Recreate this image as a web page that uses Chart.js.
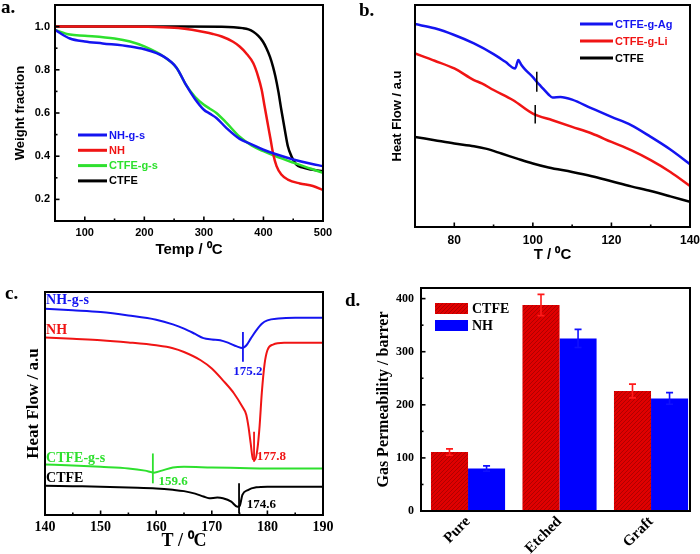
<!DOCTYPE html>
<html><head><meta charset="utf-8">
<script src="https://cdn.jsdelivr.net/npm/chart.js@4.4.1/dist/chart.umd.min.js"></script>
<style>
html,body{margin:0;padding:0;background:#fff;}
#wrap{position:relative;width:700px;height:554px;overflow:hidden;background:#fff;}
canvas{position:absolute;}
.plab{position:absolute;font-family:"Liberation Serif","Times New Roman",serif;font-weight:bold;font-size:19px;line-height:1;color:#000;}
</style></head><body>
<div id="wrap">
<canvas id="ca" width="350" height="280" style="left:0;top:0;width:350px;height:280px"></canvas>
<canvas id="cb" width="350" height="280" style="left:350px;top:0;width:350px;height:280px"></canvas>
<canvas id="cc" width="350" height="274" style="left:0;top:280px;width:350px;height:274px"></canvas>
<canvas id="cd" width="350" height="274" style="left:350px;top:280px;width:350px;height:274px"></canvas>
<div class="plab" style="left:1px;top:-3px">a.</div>
<div class="plab" style="left:359px;top:0px">b.</div>
<div class="plab" style="left:5px;top:283px">c.</div>
<div class="plab" style="left:345px;top:290px">d.</div>
</div>
<script>
// ---------------- Panel a: TGA ----------------
const aXTicks = [100, 200, 300, 400, 500];
const aXMinor = [150, 250, 350, 450];
const aYTicks = [0.2, 0.4, 0.6, 0.8, 1.0];
const aYMinor = [0.3, 0.5, 0.7, 0.9];
const aNhgsT = [50,75,100,130,176,200,232,254,270,285,300,310,321,338,360,380,400,420,450,480,500];
const aNhgsW = [0.985,0.945,0.931,0.922,0.908,0.895,0.862,0.81,0.73,0.665,0.615,0.597,0.577,0.53,0.48,0.455,0.43,0.41,0.385,0.365,0.354];
const aNhT = [50,150,220,257,280,300,315,330,349,360,371,383,391,397,402,408,412,416,422,430,441,461,483,500];
const aNhW = [1.0,1.0,0.998,0.993,0.985,0.975,0.966,0.954,0.93,0.908,0.877,0.83,0.77,0.708,0.63,0.538,0.477,0.415,0.354,0.315,0.292,0.274,0.262,0.243];
const aCtfegsT = [50,75,100,150,176,200,232,254,270,285,300,310,321,338,360,380,400,420,450,480,500];
const aCtfegsW = [0.985,0.963,0.958,0.945,0.931,0.908,0.862,0.81,0.73,0.675,0.638,0.62,0.6,0.554,0.49,0.45,0.423,0.40,0.37,0.342,0.323];
const aCtfeT = [50,150,250,330,350,365,375,383,391,399,405,411,416,420,425,430,436,441,447,455,465,480,500];
const aCtfeW = [1.0,1.0,1.0,0.999,0.997,0.993,0.987,0.976,0.958,0.931,0.9,0.86,0.815,0.77,0.7,0.615,0.52,0.446,0.4,0.362,0.348,0.338,0.331];

// ---------------- Panel b: DSC (a.u.) ----------------
const bXTicks = [80, 100, 120, 140];
const bXMinor = [90, 110, 130];
const bAgT = [70,75,80,85,90,93,95.5,96.3,97,98,100,101,102,104,105,107,110,115,120,125,130,135,140];
const bAgY = [91.4,89.5,86.5,82.7,77.9,74.4,71.4,75.2,73.2,71.0,67.5,65.4,63.5,59.7,58.3,58.6,57.4,53.4,49.6,45.9,40.6,34.9,28.3];
const bLiT = [70,75,80,85,87,90,95,100,105,110,115,120,125,130,135,140];
const bLiY = [78.2,74.9,71.4,66.2,64.7,61.7,57.1,51.1,48.1,45.1,42.1,38.3,34.6,30.1,24.8,18.5];
const bCtfeT = [70,75,80,85,88,92,96,100,104,110,115,120,125,130,135,140];
const bCtfeY = [40.6,39.1,37.6,36.4,35.3,33.1,30.8,28.6,26.8,24.8,22.9,20.6,18.3,16.2,13.8,11.3];

// ---------------- Panel c: DSC melting (a.u.) ----------------
const cXTicks = [140, 150, 160, 170, 180, 190];
const cXMinor = [145, 155, 165, 175, 185];
const cNhgsT = [140,145,150,155,160,163,165,167,168.5,170,171.5,173,174.5,175.5,176.2,177,178,179,180,182,185,190];
const cNhgsY = [92.5,91.8,91.0,89.5,87.6,85.5,83.6,81.2,79.3,78.7,78.4,77.2,75.6,74.9,76.0,79.1,82.8,85.8,87.3,88.1,88.4,88.4];
const cNhT = [140,145,150,155,160,163,165,168,170,172,174,175.5,176.2,176.6,177,177.4,177.8,178.2,178.6,179,179.5,180,181,183,186,190];
const cNhY = [79.6,79.0,78.4,77.4,76.1,74.8,73.1,69.4,65.7,60.4,54.5,48.5,45.0,39.5,32.0,25.0,24.8,29.5,40.0,55.0,67.9,73.9,76.4,77.2,77.2,77.2];
const cCtfegsT = [140,145,150,155,158,159.6,161,163,165,170,175,180,185,190];
const cCtfegsY = [22.7,22.2,21.6,20.9,19.9,19.0,19.9,21.3,21.6,21.3,21.1,20.9,20.9,20.9];
const cCtfeT = [140,145,150,155,160,163,165,167,168.5,169.5,171,172,173.5,174.6,175,175.5,176.5,178,180,185,190];
const cCtfeY = [13.1,12.9,12.7,12.3,11.9,11.3,10.7,9.6,8.3,7.5,7.8,7.5,6.0,3.7,4.0,9.0,11.2,12.4,12.7,12.7,12.7];
const cPeakLabels = ['175.2', '177.8', '159.6', '174.6'];

// ---------------- Panel d: gas permeability ----------------
const dCats = ['Pure', 'Etched', 'Graft'];
const dCtfe = [111, 388, 226];
const dCtfeErr = [6, 20, 13];
const dNh = [80, 325, 212];
const dNhErr = [5, 17, 11];
const dYTicks = [0, 100, 200, 300, 400];
const dYMinor = [50, 150, 250, 350];

// ---------------- helpers ----------------
const SANS = '"Liberation Sans", Arial, sans-serif';
const SERIF = '"Liberation Serif", "Times New Roman", serif';
const BLUE = '#1414f0', RED = '#f01414', GREEN = '#2ee02e', BLACK = '#000000';
const f = (family, size) => ({family, size, weight: 'bold'});

function lineDs(label, xs, ys, color, w) {
  return {label, data: xs.map((x, i) => ({x, y: ys[i]})), borderColor: color, backgroundColor: color,
    borderWidth: w, pointRadius: 0, fill: false, cubicInterpolationMode: 'monotone'};
}
function linScale(o) {
  return {
    type: 'linear', min: o.min, max: o.max, offset: false,
    afterBuildTicks: s => { s.ticks = o.ticks.map(v => ({value: v})); },
    afterFit: s => {
      if (o.w !== undefined) s.width = o.w;
      if (o.h !== undefined) s.height = o.h;
      s.paddingTop = 0; s.paddingBottom = 0; s.paddingLeft = 0; s.paddingRight = 0;
    },
    grid: {display: false, drawTicks: false, offset: false},
    border: {display: false},
    ticks: {display: o.showTicks !== false, autoSkip: false, maxRotation: o.rot || 0, minRotation: o.rot || 0,
      padding: o.pad || 0, font: o.tickFont || f(SANS, 11), color: '#000',
      callback: o.fmt || (v => String(v))},
    title: {display: !!o.title, text: o.title || '', font: o.titleFont || f(SANS, 12), color: '#000',
      padding: o.titlePad || 0}
  };
}
function frame(cfg) {
  return {id: 'frame', afterDatasetsDraw(chart) {
    const {ctx, chartArea: a} = chart; const xs = chart.scales.x, ys = chart.scales.y;
    ctx.save(); ctx.strokeStyle = '#000'; ctx.lineWidth = 1.6;
    const seg = (x1, y1, x2, y2) => { ctx.beginPath(); ctx.moveTo(x1, y1); ctx.lineTo(x2, y2); ctx.stroke(); };
    (cfg.xMajor || []).forEach(v => { const p = xs.getPixelForValue(v); seg(p, a.bottom, p, a.bottom - 4.5); });
    (cfg.xMinor || []).forEach(v => { const p = xs.getPixelForValue(v); seg(p, a.bottom, p, a.bottom - 2.5); });
    (cfg.yMajor || []).forEach(v => { const p = ys.getPixelForValue(v); seg(a.left, p, a.left + 4.5, p); });
    (cfg.yMinor || []).forEach(v => { const p = ys.getPixelForValue(v); seg(a.left, p, a.left + 2.5, p); });
    ctx.lineWidth = 2;
    ctx.strokeRect(a.left, a.top, a.right - a.left, a.bottom - a.top);
    ctx.restore();
  }};
}
function lineLegend(cfg) {
  return {id: 'lineLegend', afterDraw(chart) {
    const {ctx, chartArea: a} = chart;
    ctx.save(); ctx.font = cfg.font; ctx.textBaseline = 'middle'; ctx.textAlign = 'left';
    chart.data.datasets.forEach((ds, i) => {
      const x = a.left + cfg.left, y = a.top + cfg.top + i * cfg.gap;
      ctx.strokeStyle = ds.borderColor; ctx.lineWidth = cfg.lw;
      ctx.beginPath(); ctx.moveTo(x, y); ctx.lineTo(x + cfg.len, y); ctx.stroke();
      ctx.fillStyle = ds.borderColor; ctx.fillText(ds.label, x + cfg.len + cfg.sp, y + 0.5);
    });
    ctx.restore();
  }};
}
function marks(cfg) {
  return {id: 'marks', afterDatasetsDraw(chart) {
    const {ctx} = chart; const xs = chart.scales.x, ys = chart.scales.y;
    ctx.save();
    (cfg.lines || []).forEach(m => {
      ctx.strokeStyle = m.color; ctx.lineWidth = cfg.lw;
      const px = xs.getPixelForValue(m.x);
      ctx.beginPath(); ctx.moveTo(px, ys.getPixelForValue(m.y1)); ctx.lineTo(px, ys.getPixelForValue(m.y2)); ctx.stroke();
    });
    ctx.textBaseline = 'middle';
    (cfg.texts || []).forEach(t => {
      ctx.font = t.font || cfg.font; ctx.fillStyle = t.color; ctx.textAlign = t.align || 'left';
      ctx.fillText(t.text, xs.getPixelForValue(t.x), ys.getPixelForValue(t.y));
    });
    ctx.restore();
  }};
}
function errBars() {
  return {id: 'errBars', afterDatasetsDraw(chart) {
    const {ctx} = chart; const ys = chart.scales.y;
    ctx.save(); ctx.lineWidth = 1.6;
    chart.data.datasets.forEach((ds, i) => {
      const meta = chart.getDatasetMeta(i);
      ctx.strokeStyle = ds.errColor;
      meta.data.forEach((bar, j) => {
        const v = ds.data[j].y, e = ds.errors[j];
        const t = ys.getPixelForValue(v + e), b = ys.getPixelForValue(v - e);
        ctx.beginPath();
        ctx.moveTo(bar.x, t); ctx.lineTo(bar.x, b);
        ctx.moveTo(bar.x - 3.5, t); ctx.lineTo(bar.x + 3.5, t);
        ctx.moveTo(bar.x - 3.5, b); ctx.lineTo(bar.x + 3.5, b);
        ctx.stroke();
      });
    });
    ctx.restore();
  }};
}
function boxLegend(cfg) {
  return {id: 'boxLegend', afterDraw(chart) {
    const {ctx, chartArea: a} = chart;
    ctx.save(); ctx.font = cfg.font; ctx.textBaseline = 'middle'; ctx.textAlign = 'left'; ctx.fillStyle = '#000';
    chart.data.datasets.forEach((ds, i) => {
      const x = a.left + cfg.left, y = a.top + cfg.top + i * cfg.gap;
      ctx.fillStyle = ds.backgroundColor; ctx.fillRect(x, y, cfg.w, cfg.h);
      ctx.fillStyle = '#000'; ctx.fillText(ds.label, x + cfg.w + 4, y + cfg.h / 2 + 0.5);
    });
    ctx.restore();
  }};
}
const common = (pad) => ({responsive: false, animation: false, events: [], layout: {padding: pad},
  plugins: {legend: {display: false}, tooltip: {enabled: false}}});

// ---------------- Chart a ----------------
new Chart(document.getElementById('ca'), {
  type: 'line',
  data: {datasets: [
    lineDs('NH-g-s', aNhgsT, aNhgsW, BLUE, 2.5),
    lineDs('NH', aNhT, aNhW, RED, 2.5),
    lineDs('CTFE-g-s', aCtfegsT, aCtfegsW, GREEN, 2.5),
    lineDs('CTFE', aCtfeT, aCtfeW, BLACK, 2.5)
  ]},
  options: Object.assign(common({left: 0, top: 5, right: 27, bottom: 0}), {
    scales: {
      x: linScale({min: 50, max: 500, ticks: aXTicks, h: 59, pad: 5, tickFont: f(SANS, 11),
        title: 'Temp / \u2070C', titleFont: f(SANS, 15), titlePad: {top: 0, bottom: 21}}),
      y: linScale({min: 0.1, max: 1.1, ticks: aYTicks, w: 55, pad: 5, tickFont: f(SANS, 11),
        fmt: v => v.toFixed(1), title: 'Weight fraction', titleFont: f(SANS, 13), titlePad: {top: 13, bottom: 0}})
    }
  }),
  plugins: [frame({xMajor: aXTicks, xMinor: aXMinor, yMajor: aYTicks, yMinor: aYMinor}),
    lineLegend({font: 'bold 11px ' + SANS, left: 23, top: 130, gap: 15.3, len: 29, sp: 2, lw: 3})]
});

// ---------------- Chart b ----------------
new Chart(document.getElementById('cb'), {
  type: 'line',
  data: {datasets: [
    lineDs('CTFE-g-Ag', bAgT, bAgY, BLUE, 2.5),
    lineDs('CTFE-g-Li', bLiT, bLiY, RED, 2.5),
    lineDs('CTFE', bCtfeT, bCtfeY, BLACK, 2.5)
  ]},
  options: Object.assign(common({left: 0, top: 5, right: 10, bottom: 0}), {
    scales: {
      x: linScale({min: 70, max: 140, ticks: bXTicks, h: 53, pad: 6, tickFont: f(SANS, 12),
        title: 'T / \u2070C', titleFont: f(SANS, 15), titlePad: {top: 0, bottom: 16}}),
      y: linScale({min: 0, max: 100, ticks: [], w: 65, showTicks: false,
        title: 'Heat Flow / a.u', titleFont: f(SANS, 13), titlePad: {top: 40, bottom: 0}})
    }
  }),
  plugins: [frame({xMajor: bXTicks, xMinor: bXMinor}),
    marks({lw: 1.5, lines: [{x: 101.0, y1: 69.9, y2: 60.9, color: '#000'}, {x: 100.6, y1: 54.9, y2: 46.6, color: '#000'}]}),
    lineLegend({font: 'bold 11px ' + SANS, left: 165, top: 19, gap: 17, len: 33, sp: 2, lw: 3})]
});

// ---------------- Chart c ----------------
new Chart(document.getElementById('cc'), {
  type: 'line',
  data: {datasets: [
    lineDs('NH-g-s', cNhgsT, cNhgsY, BLUE, 2),
    lineDs('NH', cNhT, cNhY, RED, 2),
    lineDs('CTFE-g-s', cCtfegsT, cCtfegsY, GREEN, 2),
    lineDs('CTFE', cCtfeT, cCtfeY, BLACK, 2)
  ]},
  options: Object.assign(common({left: 0, top: 12, right: 27, bottom: 0}), {
    scales: {
      x: linScale({min: 140, max: 190, ticks: cXTicks, h: 39, pad: 4, tickFont: f(SERIF, 14),
        title: 'T / \u2070C', titleFont: f(SERIF, 18), titlePad: {top: 0, bottom: 2}}),
      y: linScale({min: 0, max: 100, ticks: [], w: 45, showTicks: false,
        title: 'Heat Flow / a.u', titleFont: f(SERIF, 17), titlePad: {top: 23, bottom: 0}})
    }
  }),
  plugins: [frame({xMajor: cXTicks, xMinor: cXMinor}),
    marks({lw: 1.8, font: 'bold 13px ' + SERIF,
      lines: [{x: 175.6, y1: 82.1, y2: 68.7, color: BLUE}, {x: 177.6, y1: 37.3, y2: 23.9, color: RED},
              {x: 159.4, y1: 27.6, y2: 14.2, color: GREEN}, {x: 174.9, y1: 14.2, y2: 0.7, color: BLACK}],
      texts: [
        {x: 140.2, y: 96.3, text: 'NH-g-s', color: BLUE, font: 'bold 14px ' + SERIF},
        {x: 140.2, y: 82.8, text: 'NH', color: RED, font: 'bold 14px ' + SERIF},
        {x: 140.2, y: 25.4, text: 'CTFE-g-s', color: GREEN, font: 'bold 14px ' + SERIF},
        {x: 140.2, y: 16.4, text: 'CTFE', color: BLACK, font: 'bold 14px ' + SERIF},
        {x: 176.5, y: 64.2, text: cPeakLabels[0], color: BLUE, align: 'center'},
        {x: 178.1, y: 26.1, text: cPeakLabels[1], color: RED},
        {x: 160.4, y: 14.9, text: cPeakLabels[2], color: GREEN},
        {x: 176.3, y: 4.5, text: cPeakLabels[3], color: BLACK}
      ]})]
});

// ---------------- Chart d ----------------
function makeHatch(ctx) {
  const c = document.createElement('canvas'); c.width = 4; c.height = 4;
  const g = c.getContext('2d');
  g.fillStyle = '#e00000'; g.fillRect(0, 0, 4, 4);
  g.strokeStyle = '#b00000'; g.lineWidth = 1;
  g.beginPath(); g.moveTo(-1, 5); g.lineTo(5, -1); g.stroke();
  return ctx.createPattern(c, 'repeat');
}
const cdEl = document.getElementById('cd');
const hatch = makeHatch(cdEl.getContext('2d'));
new Chart(cdEl, {
  type: 'bar',
  data: {datasets: [
    {label: 'CTFE', data: dCtfe.map((v, i) => ({x: i, y: v})), backgroundColor: hatch, borderWidth: 0,
     categoryPercentage: 0.81, barPercentage: 1.0, errors: dCtfeErr, errColor: '#ff1a1a'},
    {label: 'NH', data: dNh.map((v, i) => ({x: i, y: v})), backgroundColor: '#0000ff', borderWidth: 0,
     categoryPercentage: 0.81, barPercentage: 1.0, errors: dNhErr, errColor: '#1010ff'}
  ]},
  options: Object.assign(common({left: 0, top: 8, right: 10, bottom: 0}), {
    scales: {
      x: linScale({min: -0.514, max: 2.426, ticks: [0, 1, 2], h: 43, pad: 2, rot: 45, tickFont: f(SERIF, 15),
        fmt: v => dCats[v]}),
      y: linScale({min: 0, max: 420, ticks: dYTicks, w: 71, pad: 7, tickFont: f(SERIF, 12),
        title: 'Gas Permeability / barrer', titleFont: f(SERIF, 16), titlePad: {top: 24, bottom: 0}})
    }
  }),
  plugins: [errBars(), frame({yMajor: dYTicks, yMinor: dYMinor}),
    boxLegend({font: 'bold 14px ' + SERIF, left: 14, top: 15, gap: 17, w: 33, h: 11})]
});
</script>
</body></html>
